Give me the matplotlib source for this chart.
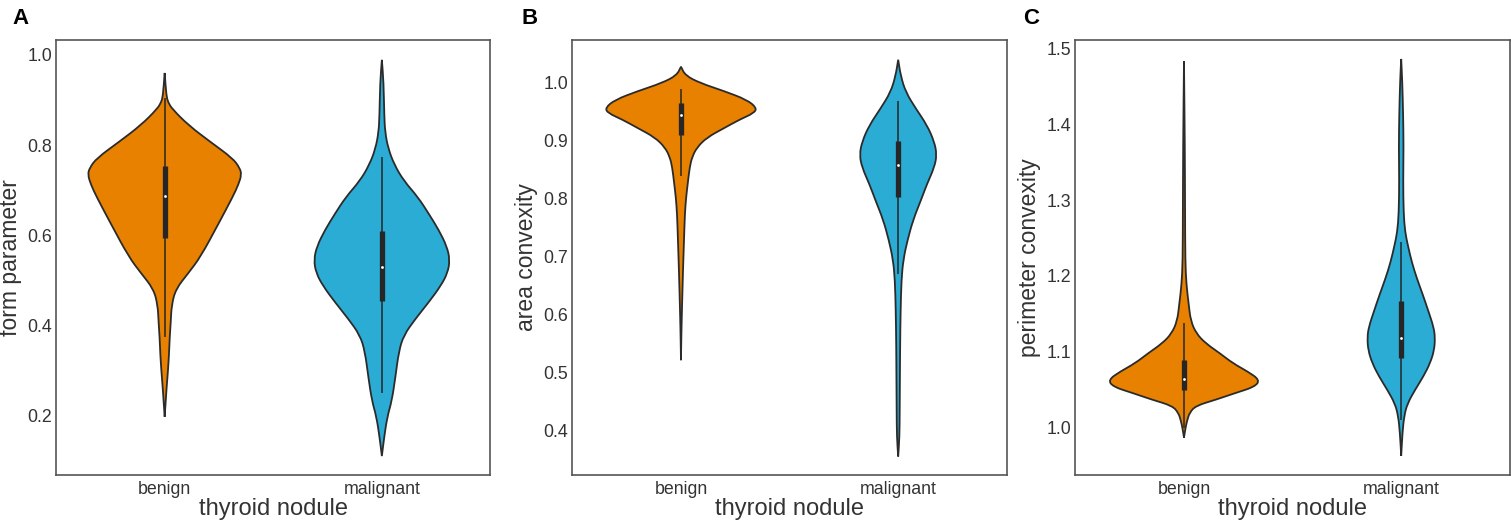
import matplotlib
matplotlib.use('Agg')
import matplotlib.pyplot as plt
from matplotlib.path import Path
from matplotlib.patches import PathPatch

plt.rcParams['font.family'] = ['Liberation Sans', 'DejaVu Sans']

groups = ['benign', 'malignant']
colors = ['#E88000', '#2AACD4']

# violin outlines: value levels and half widths (x units)
form_benign_y = [0.960, 0.909, 0.895, 0.880, 0.844, 0.807, 0.771, 0.750, 0.735, 0.713, 0.685, 0.626,
                 0.553, 0.517, 0.481, 0.445, 0.408, 0.372, 0.336, 0.299, 0.263, 0.234, 0.198]
form_benign_w = [0.0, 0.008, 0.016, 0.035, 0.110, 0.211, 0.313, 0.345, 0.354, 0.340, 0.313, 0.248,
                 0.166, 0.110, 0.051, 0.032, 0.028, 0.023, 0.020, 0.015, 0.009, 0.005, 0.0]
form_malig_y = [0.989, 0.938, 0.866, 0.829, 0.793, 0.757, 0.721, 0.685, 0.648, 0.612, 0.576, 0.546,
                0.517, 0.488, 0.452, 0.416, 0.379, 0.343, 0.285, 0.234, 0.198, 0.154, 0.111]
form_malig_w = [0.0, 0.008, 0.011, 0.015, 0.029, 0.057, 0.101, 0.166, 0.216, 0.262, 0.299, 0.313,
                0.303, 0.271, 0.216, 0.156, 0.101, 0.078, 0.062, 0.046, 0.025, 0.011, 0.0]

area_benign_y = [1.028, 1.013, 1.000, 0.986, 0.971, 0.957, 0.948, 0.937, 0.922, 0.906, 0.889, 0.872,
                 0.854, 0.826, 0.804, 0.775, 0.730, 0.673, 0.616, 0.570, 0.522]
area_benign_w = [0.0, 0.020, 0.087, 0.198, 0.303, 0.349, 0.336, 0.271, 0.198, 0.120, 0.074, 0.051,
                 0.040, 0.031, 0.024, 0.018, 0.014, 0.009, 0.005, 0.002, 0.0]
area_malig_y = [1.040, 1.012, 0.984, 0.956, 0.927, 0.899, 0.876, 0.854, 0.826, 0.797, 0.764, 0.729,
                0.696, 0.661, 0.605, 0.548, 0.492, 0.435, 0.390, 0.356]
area_malig_w = [0.0, 0.012, 0.035, 0.081, 0.133, 0.166, 0.178, 0.166, 0.133, 0.104, 0.069, 0.043,
                0.024, 0.015, 0.011, 0.009, 0.008, 0.007, 0.006, 0.0]

perim_benign_y = [1.483, 1.368, 1.283, 1.219, 1.189, 1.162, 1.141, 1.124, 1.111, 1.098, 1.085, 1.074,
                  1.063, 1.054, 1.046, 1.037, 1.029, 1.020, 1.009, 0.998, 0.987]
perim_benign_w = [0.0, 0.004, 0.005, 0.006, 0.011, 0.022, 0.031, 0.057, 0.101, 0.166, 0.225, 0.294,
                  0.349, 0.326, 0.239, 0.147, 0.055, 0.026, 0.014, 0.006, 0.0]
perim_malig_y = [1.486, 1.456, 1.413, 1.369, 1.326, 1.283, 1.258, 1.240, 1.218, 1.197, 1.175, 1.153,
                 1.133, 1.119, 1.102, 1.085, 1.068, 1.050, 1.032, 1.016, 0.994, 0.963]
perim_malig_w = [0.0, 0.005, 0.009, 0.011, 0.009, 0.011, 0.018, 0.031, 0.049, 0.072, 0.100, 0.126,
                 0.149, 0.156, 0.152, 0.133, 0.103, 0.064, 0.029, 0.014, 0.006, 0.0]

# inner box: whisker low, q1, median, q3, whisker high
form_box = [[0.375, 0.595, 0.688, 0.753, 0.905], [0.250, 0.455, 0.530, 0.610, 0.773]]
area_box = [[0.839, 0.910, 0.945, 0.965, 0.990], [0.671, 0.804, 0.859, 0.900, 0.968]]
perim_box = [[1.000, 1.050, 1.064, 1.089, 1.138], [1.010, 1.092, 1.118, 1.167, 1.245]]

panels = [
    ('A', 'form parameter', [(form_benign_y, form_benign_w), (form_malig_y, form_malig_w)], form_box,
     (0.069, 1.033), [0.2, 0.4, 0.6, 0.8, 1.0]),
    ('B', 'area convexity', [(area_benign_y, area_benign_w), (area_malig_y, area_malig_w)], area_box,
     (0.324, 1.074), [0.4, 0.5, 0.6, 0.7, 0.8, 0.9, 1.0]),
    ('C', 'perimeter convexity', [(perim_benign_y, perim_benign_w), (perim_malig_y, perim_malig_w)], perim_box,
     (0.9377, 1.511), [1.0, 1.1, 1.2, 1.3, 1.4, 1.5]),
]


def violin_path(pos, vy, vw):
    # closed outline: right side top->bottom, left side bottom->top,
    # rounded with quadratic curves through the midpoints
    pts = [(pos + w, y) for y, w in zip(vy, vw)]
    pts += [(pos - w, y) for y, w in zip(vy[::-1], vw[::-1])]
    n = len(pts)
    mid = lambda a, b: ((a[0] + b[0]) / 2, (a[1] + b[1]) / 2)
    verts = [mid(pts[-1], pts[0])]
    codes = [Path.MOVETO]
    for i in range(n):
        verts += [pts[i], mid(pts[i], pts[(i + 1) % n])]
        codes += [Path.CURVE3, Path.CURVE3]
    verts.append(verts[0])
    codes.append(Path.CLOSEPOLY)
    return Path(verts, codes)


fig = plt.figure(figsize=(15.11, 5.32), dpi=100)
lefts = [0.0371, 0.3788, 0.7117]
letter_x = [0.008, 0.345, 0.677]

for i, (letter, ylabel, outlines, boxes, ylim, yticks) in enumerate(panels):
    ax = fig.add_axes([lefts[i], 0.1071, 0.2875, 0.8177])
    for pos, ((vy, vw), box, col) in enumerate(zip(outlines, boxes, colors)):
        patch = PathPatch(violin_path(pos, vy, vw), facecolor=col, edgecolor='#2b2b2b',
                          linewidth=1.3, zorder=2)
        ax.add_patch(patch)
        lo, q1, med, q3, hi = box
        ax.vlines(pos, lo, hi, color='#262626', linewidth=1.1, zorder=3)
        ax.vlines(pos, q1, q3, color='#262626', linewidth=3.8, zorder=4)
        ax.scatter([pos], [med], s=4, color='white', zorder=5, linewidths=0)
    ax.set_xlim(-0.5, 1.5)
    ax.set_ylim(*ylim)
    ax.set_xticks([0, 1])
    ax.set_xticklabels(groups)
    ax.set_yticks(yticks)
    ax.set_yticklabels(['%.1f' % t for t in yticks])
    ax.tick_params(length=0, labelsize=12.8, labelcolor='#333333', pad=3)
    ax.tick_params(axis='x', pad=4)
    for sp in ax.spines.values():
        sp.set_color('#555555')
        sp.set_linewidth(1.2)
    ax.set_ylabel(ylabel, fontsize=16.5, color='#333333')
    ax.set_xlabel('thyroid nodule', fontsize=17, color='#333333')
    ax.yaxis.set_label_coords(-0.079, 0.5)
    ax.xaxis.set_label_coords(0.5, -0.052)
    fig.text(letter_x[i], 0.985, letter, fontsize=16, fontweight='bold', color='black', va='top', ha='left')

fig.savefig('out.png', dpi=100)
